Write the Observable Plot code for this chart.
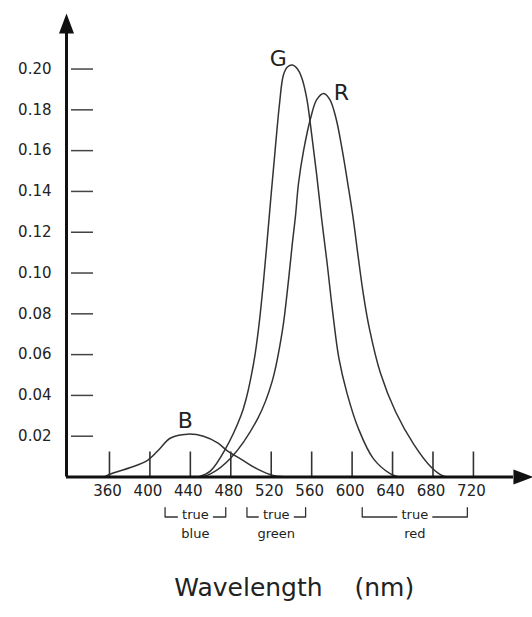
<!DOCTYPE html>
<html>
<head>
<meta charset="utf-8">
<script src="https://cdn.jsdelivr.net/npm/d3@7"></script>
<script src="https://cdn.jsdelivr.net/npm/@observablehq/plot@0.6"></script>
<style>
  body { margin: 0; background: #fff; }
</style>
</head>
<body>
<div id="chart"></div>
<script>
// ---- data ----
const xTicks = [360, 400, 440, 480, 520, 560, 600, 640, 680, 720];
const yTicks = [0.02, 0.04, 0.06, 0.08, 0.10, 0.12, 0.14, 0.16, 0.18, 0.20];

const blueWl  = [355, 361, 380, 398, 410, 420, 437, 453, 467, 477, 490, 506, 522, 541];
const blueVal = [0, 0.0015, 0.0045, 0.0083, 0.014, 0.019, 0.021, 0.020, 0.0167, 0.0127, 0.0088, 0.004, 0.0008, 0];

const greenWl  = [448, 460, 475, 490, 495, 500, 504, 508, 512, 516, 520, 524, 528, 532, 536, 541, 546, 550, 555, 560, 565, 570, 575, 581, 587, 595, 606, 621, 638, 646];
const greenVal = [0, 0.003, 0.014, 0.030, 0.038, 0.049, 0.060, 0.075, 0.094, 0.116, 0.139, 0.161, 0.182, 0.197, 0.201, 0.202, 0.200, 0.196, 0.186, 0.168, 0.148, 0.126, 0.106, 0.080, 0.058, 0.041, 0.024, 0.009, 0.0015, 0];

const redWl  = [450, 460, 480, 507, 521, 531, 537, 541, 544, 547, 552, 559, 565, 572, 578, 584, 590, 596, 601, 606, 611, 617, 628, 643, 661, 679, 690, 696];
const redVal = [0, 0.0015, 0.0093, 0.029, 0.047, 0.0716, 0.096, 0.115, 0.128, 0.144, 0.160, 0.176, 0.185, 0.188, 0.185, 0.176, 0.161, 0.143, 0.127, 0.108, 0.090, 0.073, 0.051, 0.032, 0.016, 0.0044, 0.0005, 0];

const curveNames = ["B", "G", "R"];
const labelWl  = [435, 527, 589.5];
const labelVal = [0.0277, 0.205, 0.1885];

const trueNames = ["blue", "green", "red"];
const trueStart = [415, 496, 610];
const trueEnd   = [475, 554, 714];

const xLabel = "Wavelength\u00a0\u00a0\u00a0\u00a0(nm)";

// ---- layout constants ----
const W = 532, H = 617;
const xMin = 317.5, xMax = 768;
const yMax = 0.2287;
const yArrowBase = 0.2174;
const xArrowBase = 759.6;
const bracketBase = -0.0196, bracketTop = -0.0150, trueY = -0.0185, nameY = -0.0277;
const gapHalf = 17.8;

// ---- build tables ----
const series = [
  ["B", blueWl, blueVal],
  ["G", greenWl, greenVal],
  ["R", redWl, redVal]
];
const rows = series.flatMap(([name, wl, val]) => wl.map((w, i) => ({name, wl: w, v: val[i]})));
const labels = curveNames.map((n, i) => ({name: n, wl: labelWl[i], v: labelVal[i]}));

const brackets = [];
const trueTexts = [];
trueNames.forEach((name, i) => {
  const a = trueStart[i], b = trueEnd[i], m = (a + b) / 2;
  brackets.push({id: name + "L", wl: a, v: bracketTop});
  brackets.push({id: name + "L", wl: a, v: bracketBase});
  brackets.push({id: name + "L", wl: m - gapHalf, v: bracketBase});
  brackets.push({id: name + "R", wl: m + gapHalf, v: bracketBase});
  brackets.push({id: name + "R", wl: b, v: bracketBase});
  brackets.push({id: name + "R", wl: b, v: bracketTop});
  trueTexts.push({wl: m, name});
});

const arrowHead = {
  draw(ctx) {
    ctx.moveTo(0, -20);
    ctx.lineTo(-7.5, 0);
    ctx.lineTo(7.5, 0);
    ctx.closePath();
  }
};

const ink = "#222";

const chart = Plot.plot({
  width: W,
  height: H,
  marginLeft: 66,
  marginRight: W - (66 + (xMax - xMin) * 1.011),
  marginTop: 10,
  marginBottom: 140.5,
  style: {fontFamily: "'DejaVu Sans', sans-serif", background: "#fff", color: ink},
  x: {domain: [xMin, xMax], label: null},
  y: {domain: [0, yMax], label: null},
  marks: [
    // y axis: labels and inward tick marks
    Plot.axisY({ticks: yTicks, tickSize: 0, tickPadding: 15, tickFormat: d3.format(".2f"), label: null, fontSize: 15, fill: ink}),
    Plot.axisY({ticks: yTicks, tickSize: -22, dx: 5, tickFormat: () => "", label: null, stroke: "#444", strokeWidth: 1.5}),
    // x axis: upward tick marks and labels
    Plot.axisX({ticks: xTicks, tickSize: -25, tickFormat: () => "", label: null, stroke: "#333", strokeWidth: 1.6}),
    Plot.axisX({ticks: xTicks, tickSize: 0, tickPadding: 8, tickFormat: d => String(d), label: null, fontSize: 15, fill: ink, dx: -2}),
    // curves
    Plot.line(rows, {x: "wl", y: "v", z: "name", curve: "catmull-rom", stroke: "#333", strokeWidth: 1.5}),
    // axis lines with arrowheads
    Plot.ruleY([0], {x1: xMin, x2: xArrowBase, stroke: "#111", strokeWidth: 3}),
    Plot.ruleX([xMin], {y1: 0, y2: yArrowBase, stroke: "#111", strokeWidth: 3}),
    Plot.dot([{wl: xMin, v: yArrowBase}], {x: "wl", y: "v", symbol: arrowHead, fill: "#111", stroke: null}),
    Plot.dot([{wl: xArrowBase, v: 0}], {x: "wl", y: "v", symbol: arrowHead, fill: "#111", stroke: null, rotate: 90}),
    // curve labels
    Plot.text(labels, {x: "wl", y: "v", text: "name", fontSize: 22, fill: ink}),
    // "true" brackets
    Plot.line(brackets, {x: "wl", y: "v", z: "id", stroke: "#333", strokeWidth: 1.3}),
    Plot.text(trueTexts, {x: "wl", y: () => trueY, text: () => "true", fontSize: 13, fill: ink}),
    Plot.text(trueTexts, {x: "wl", y: () => nameY, text: "name", fontSize: 13, fill: ink}),
    // axis title
    Plot.text([xLabel], {frameAnchor: "bottom", dy: 118.5, text: d => d, fontSize: 25, fill: ink})
  ]
});

document.getElementById("chart").appendChild(chart);
</script>
</body>
</html>
